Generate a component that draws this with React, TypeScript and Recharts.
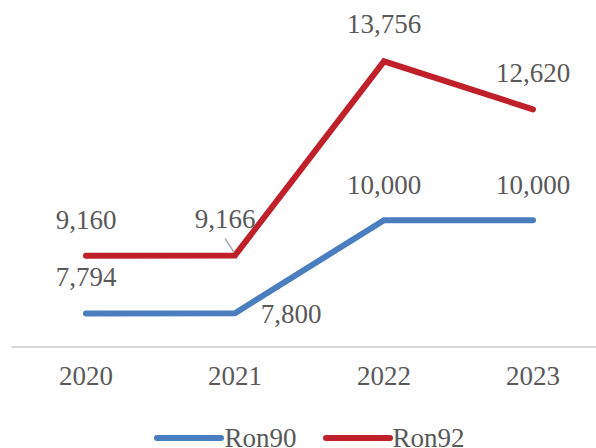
import React from 'react';
import { LineChart, Line, XAxis, YAxis, Legend, LabelList } from 'recharts';

const years = ['2020', '2021', '2022', '2023'];
const ron90 = [7794, 7800, 10000, 10000];
const ron92 = [9160, 9166, 13756, 12620];

const data = years.map((y, i) => ({ year: y, Ron90: ron90[i], Ron92: ron92[i] }));

const BLUE = '#4a7ebf';
const RED = '#c0202a';
const TEXT = '#595959';
const FONT = '"Liberation Serif", "Times New Roman", serif';
const FS = 27;

const OFFSETS: Record<string, number[][]> = {
  Ron90: [[0, -36], [56, 1], [0, -35], [0, -35]],
  Ron92: [[0, -36], [-10, -36], [0, -37], [0, -36]],
};

const fmt = (v: number) => v.toLocaleString('en-US');

const makeLabel = (series: string) => (props: any) => {
  const { x, y, value, index } = props;
  const [dx, dy] = OFFSETS[series][index];
  const cx = x + dx;
  const cy = y + dy;
  return (
    <g>
      {series === 'Ron92' && index === 1 && (
        <line x1={x - 10} y1={y - 17} x2={x - 1} y2={y - 3} stroke="#a6a6a6" strokeWidth={1.5} />
      )}
      <text
        x={cx}
        y={cy}
        textAnchor="middle"
        dominantBaseline="central"
        fill={TEXT}
        fontSize={FS}
        fontFamily={FONT}
      >
        {fmt(value)}
      </text>
    </g>
  );
};

const LegendContent = () => {
  const items = [
    { name: 'Ron90', color: BLUE },
    { name: 'Ron92', color: RED },
  ];
  return (
    <div style={{ height: 40, display: 'flex', justifyContent: 'center', alignItems: 'flex-end' }}>
      {items.map((it) => (
        <div key={it.name} style={{ display: 'flex', alignItems: 'center', margin: '0 13px', height: 30, position: 'relative', top: 5 }}>
          <svg width={70} height={10}>
            <line x1={3} y1={5} x2={67} y2={5} stroke={it.color} strokeWidth={6} strokeLinecap="round" />
          </svg>
          <span style={{ fontFamily: FONT, fontSize: FS, color: TEXT, lineHeight: '30px' }}>{it.name}</span>
        </div>
      ))}
    </div>
  );
};

export default function App() {
  return (
    <div style={{ position: 'absolute', left: 0, top: 0, width: 596, height: 448, overflow: 'hidden', background: '#fff' }}>
      <LineChart width={620} height={448} data={data} margin={{ top: 51, right: 12.5, left: 11.5, bottom: 0 }}>
        <XAxis
          dataKey="year"
          axisLine={{ stroke: '#d9d9d9', strokeWidth: 2 }}
          tickLine={false}
          tickSize={0}
          tickMargin={19}
          height={61}
          padding={{ left: 74.5, right: 74.5 }}
          tick={{ fill: TEXT, fontSize: FS, fontFamily: FONT }}
        />
        <YAxis hide domain={[7000, 14000]} />
        <Legend verticalAlign="bottom" height={40} content={<LegendContent />} />
        <Line
          type="linear"
          dataKey="Ron90"
          stroke={BLUE}
          strokeWidth={6}
          strokeLinecap="round"
          dot={false}
          isAnimationActive={false}
        >
          <LabelList dataKey="Ron90" content={makeLabel('Ron90')} />
        </Line>
        <Line
          type="linear"
          dataKey="Ron92"
          stroke={RED}
          strokeWidth={6}
          strokeLinecap="round"
          dot={false}
          isAnimationActive={false}
        >
          <LabelList dataKey="Ron92" content={makeLabel('Ron92')} />
        </Line>
      </LineChart>
    </div>
  );
}
